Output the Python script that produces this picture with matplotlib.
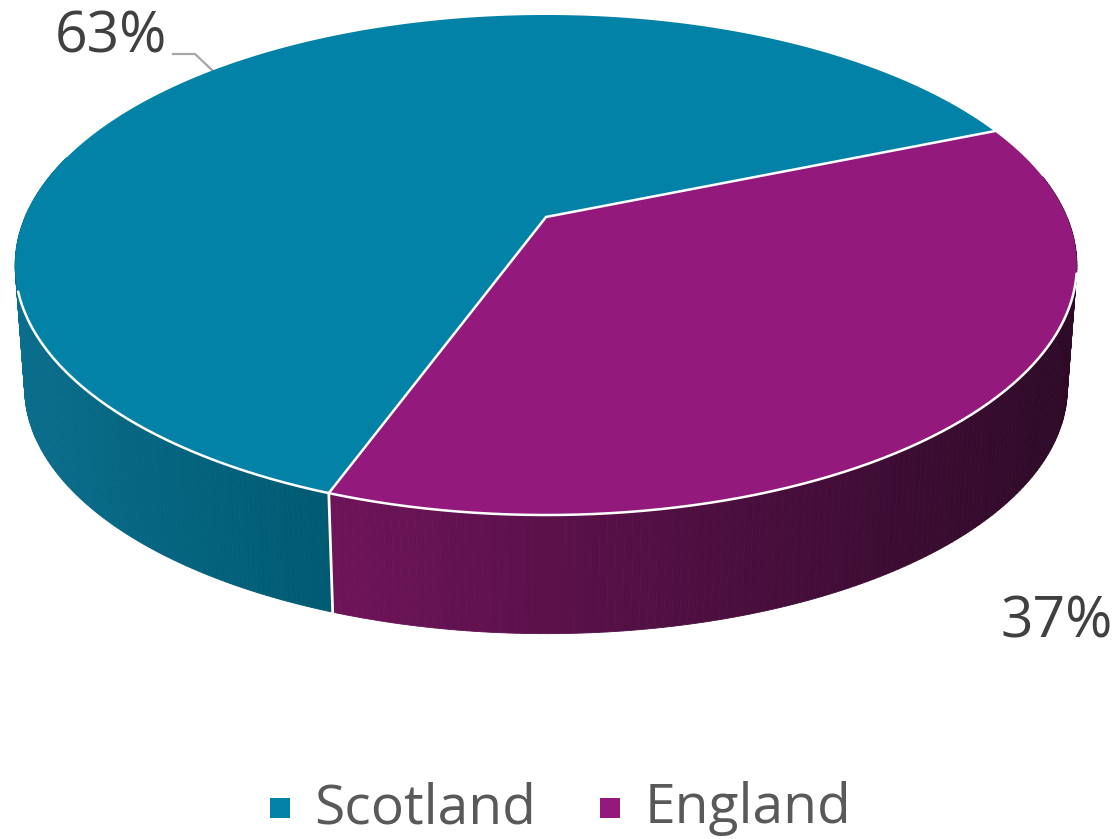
import numpy as np
import matplotlib
matplotlib.use("Agg")
import matplotlib.pyplot as plt
from matplotlib.patches import Polygon, Rectangle
from matplotlib.colors import to_rgb

categories = ["Scotland", "England"]
shares = [63.2, 36.8]
labels = ["63%", "37%"]
top_colors = ["#0382A8", "#931A7C"]
wall_left = ["#0A6E8C", "#6E1459"]
wall_right = ["#005A72", "#2E0A28"]

W, H = 1120, 839
fig = plt.figure(figsize=(W / 100, H / 100), dpi=100, facecolor="white")
ax = fig.add_axes([0, 0, 1, 1])
ax.set_xlim(0, W)
ax.set_ylim(H, 0)
ax.axis("off")
plt.rcParams["font.family"] = ["Open Sans", "DejaVu Sans"]

# perspective projection of a unit disc
CX, CY, A, B, P = 546.0, 217.0, 521.0, 240.8, 0.192
DEPTH, SHRINK = 121.0, 0.982


def project(deg, lower=False):
    t = np.radians(deg)
    u, v = np.cos(t), np.sin(t)
    d = 1 + P * v
    X, Y = A * u / d, B * v / d
    if lower:
        return CX + X * SHRINK, CY - Y * SHRINK + DEPTH + 3
    return CX + X, CY - Y


start = 22.5
england_sweep = 360 * shares[1] / sum(shares)
angle_england_end = start - england_sweep
sc_a = np.linspace(start, angle_england_end + 360, 400)
en_a = np.linspace(angle_england_end, start, 260)


def lerp(c1, c2, f):
    c1, c2 = np.array(to_rgb(c1)), np.array(to_rgb(c2))
    return tuple(c1 + (c2 - c1) * f)


# side wall as thin strips, shaded across x
def wall(a0, a1, idx, x0, x1):
    angs = np.linspace(a0, a1, 161)
    for s, e in zip(angs[:-1], angs[1:]):
        xa, ya = project(s)
        xb, yb = project(e)
        xc, yc = project(e, True)
        xd, yd = project(s, True)
        f = np.clip(((xa + xb) / 2 - x0) / (x1 - x0), 0, 1)
        col = lerp(wall_left[idx], wall_right[idx], f)
        ax.add_patch(Polygon([(xa, ya), (xb, yb), (xc, yc), (xd, yd)],
                             closed=True, fc=col, ec=col, lw=0.6, zorder=1))


xs_split, _ = project(angle_england_end)
wall(-195, angle_england_end, 0, 15, xs_split)
wall(angle_england_end, 10, 1, xs_split, 1075)

# top faces
apex = (CX, CY)
sx, sy = project(sc_a)
ex, ey = project(en_a)
ax.add_patch(Polygon(np.r_[[apex], np.c_[sx, sy]], closed=True,
                     fc=top_colors[0], ec="none", zorder=3))
ax.add_patch(Polygon(np.r_[[apex], np.c_[ex, ey]], closed=True,
                     fc=top_colors[1], ec="none", zorder=3))

# white separators
rim = np.linspace(-163, -13, 300)
rx, ry = project(rim)
ax.plot(rx, ry, color="white", lw=1.8, zorder=4, solid_capstyle="round")
p1 = project(start)
p2 = project(angle_england_end)
p3 = project(angle_england_end, True)
ax.plot([p1[0], CX, p2[0]], [p1[1], CY, p2[1]], color="white", lw=1.8, zorder=4,
        solid_joinstyle="miter")
ax.plot([p2[0], p3[0]], [p2[1], p3[1]], color="white", lw=2.0, zorder=4)

# data labels
txt = "#404040"
ax.text(111, 38, labels[0], fontsize=41, color=txt, ha="center", va="center")
ax.text(1057, 623, labels[1], fontsize=41, color=txt, ha="center", va="center")
ax.plot([173, 195, 213], [54, 54, 71], color="#A6A6A6", lw=1.6, zorder=2)

# legend
ax.add_patch(Rectangle((270, 798), 20, 20, fc=top_colors[0], ec="none"))
ax.add_patch(Rectangle((600, 798), 20, 20, fc=top_colors[1], ec="none"))
ax.text(314, 809, categories[0], fontsize=39.7, color="#595959", ha="left", va="center")
ax.text(645, 809, categories[1], fontsize=39.7, color="#595959", ha="left", va="center")

fig.savefig("out.png", dpi=100, facecolor="white")
